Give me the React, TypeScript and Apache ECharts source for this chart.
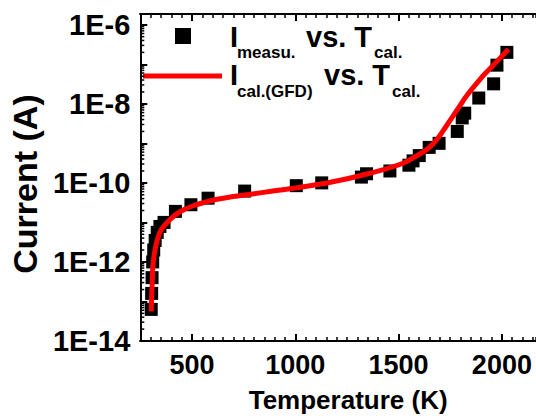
import React, { useEffect, useRef } from "react";
import * as echarts from "echarts";

// Measured current vs calibrated temperature (squares)
const T_MEAS = [303, 305, 307, 310, 315, 322, 332, 345, 365, 420, 495, 578, 755, 1005, 1128, 1320, 1345, 1458, 1550, 1570, 1600, 1648, 1696, 1784, 1808, 1820, 1888, 1960, 1976, 2024];
const I_MEAS = [6.3e-14, 1.6e-13, 4.0e-13, 1.0e-12, 2.0e-12, 3.5e-12, 5.6e-12, 7.9e-12, 1.0e-11, 1.9e-11, 2.8e-11, 4.1e-11, 6.2e-11, 8.5e-11, 1.0e-10, 1.4e-10, 1.7e-10, 2.0e-10, 2.8e-10, 3.6e-10, 4.9e-10, 7.9e-10, 1.0e-9, 2.0e-9, 4.4e-9, 5.8e-9, 1.4e-8, 3.2e-8, 9.5e-8, 2.0e-7];

// Calculated (GFD) current vs calibrated temperature (red line)
const T_CAL = [303, 305, 308, 311, 318, 327, 338, 352, 375, 400, 423, 460, 503, 560, 615, 700, 775, 900, 1000, 1176, 1352, 1512, 1576, 1640, 1688, 1736, 1784, 1832, 1896, 1944, 1992, 2032];
const I_CAL = [5.6e-14, 1.26e-13, 3.2e-13, 7.9e-13, 1.6e-12, 2.8e-12, 4.5e-12, 6.6e-12, 9.3e-12, 1.26e-11, 1.6e-11, 2.1e-11, 2.6e-11, 3.2e-11, 3.8e-11, 4.5e-11, 5.1e-11, 6.3e-11, 7.4e-11, 1.05e-10, 1.7e-10, 3.0e-10, 4.5e-10, 7.2e-10, 1.3e-9, 3.0e-9, 7.1e-9, 1.66e-8, 4.3e-8, 7.9e-8, 1.45e-7, 2.4e-7];

const X_MIN = 250;
const X_MAX = 2165;
const X_TICKS = [500, 1000, 1500, 2000];
const Y_MIN = 1e-14;
const Y_MAX = 1.87e-6;
const Y_DECADES = [-14, -13, -12, -11, -10, -9, -8, -7, -6];
const Y_MINOR_MULT = [2, 3, 4, 5, 6, 7, 8, 9];

const FONT = "'Liberation Sans', Arial, Helvetica, sans-serif";

export default function App() {
  const ref = useRef<HTMLDivElement>(null);

  useEffect(() => {
    document.body.style.margin = "0";
    if (!ref.current) return;
    const chart = echarts.init(ref.current, null, { renderer: "svg" });

    const yMinor: number[][] = [];
    Y_DECADES.forEach((d) => {
      Y_MINOR_MULT.forEach((m) => {
        const v = m * Math.pow(10, d);
        if (v > Y_MIN && v < Y_MAX) yMinor.push([X_MIN, v]);
      });
    });

    const lineStyle = { color: "#000", width: 2 };
    const majorTick = { show: true, inside: true, length: 7, lineStyle: { color: "#000", width: 2 } };
    const minorTick = { show: true, inside: true, length: 4, lineStyle: { color: "#000", width: 1.5 } };

    const xBase = {
      type: "value" as const,
      min: X_MIN,
      max: X_MAX,
      gridIndex: 0,
      splitLine: { show: false },
    };

    const option: any = {
      animation: false,
      grid: { left: 137, top: 14, right: 0, height: 333, containLabel: false },
      xAxis: [
        {
          ...xBase,
          position: "bottom",
          axisLine: { show: true, lineStyle },
          axisTick: { ...majorTick, customValues: X_TICKS },
          axisLabel: {
            customValues: X_TICKS,
            fontSize: 27,
            fontWeight: "bold",
            color: "#000",
            fontFamily: FONT,
            margin: 10,
            formatter: (v: number) => String(v),
          },
          name: "Temperature (K)",
          nameLocation: "middle",
          nameGap: 46,
          nameTextStyle: { fontSize: 26, fontWeight: "bold", color: "#000", fontFamily: FONT, padding: [0, 0, 0, 20] },
        },
        {
          ...xBase,
          position: "bottom",
          interval: 50,
          axisLine: { show: true, lineStyle },
          axisTick: minorTick,
          axisLabel: { show: false },
        },
        {
          ...xBase,
          position: "top",
          axisLine: { show: true, lineStyle },
          axisTick: { ...majorTick, customValues: X_TICKS },
          axisLabel: { show: false },
        },
        {
          ...xBase,
          position: "top",
          interval: 50,
          axisLine: { show: true, lineStyle },
          axisTick: minorTick,
          axisLabel: { show: false },
        },
      ],
      yAxis: [
        {
          type: "log",
          logBase: 10,
          min: Y_MIN,
          max: Y_MAX,
          splitNumber: 10,
          position: "left",
          axisLine: { show: true, lineStyle },
          axisTick: majorTick,
          splitLine: { show: false },
          minorTick: { show: false },
          axisLabel: {
            fontSize: 29,
            fontWeight: "bold",
            color: "#000",
            fontFamily: FONT,
            margin: 10,
            formatter: (v: number) => {
              const e = Math.log10(v);
              const r = Math.round(e);
              if (Math.abs(e - r) > 1e-6 || r % 2 !== 0) return "";
              return "1E" + r;
            },
          },
          name: "Current (A)",
          nameLocation: "middle",
          nameGap: 95,
          nameTextStyle: { fontSize: 34, fontWeight: "bold", color: "#000", fontFamily: FONT, padding: [0, 13, 0, 0] },
        },
      ],
      series: [
        {
          type: "custom",
          xAxisIndex: 0,
          yAxisIndex: 0,
          silent: true,
          clip: false,
          data: yMinor,
          encode: { x: 0, y: 1 },
          renderItem: (params: any, api: any) => {
            const p = api.coord([api.value(0), api.value(1)]);
            const x0 = params.coordSys.x;
            return {
              type: "line",
              shape: { x1: x0, y1: p[1], x2: x0 + 4, y2: p[1] },
              style: { stroke: "#000", lineWidth: 1.5 },
            };
          },
          z: 5,
        },
        {
          type: "scatter",
          xAxisIndex: 0,
          yAxisIndex: 0,
          symbol: "rect",
          symbolSize: 13,
          itemStyle: { color: "#000", opacity: 1 },
          data: T_MEAS.map((t, i) => [t, I_MEAS[i]]),
          z: 2,
        },
        {
          type: "line",
          xAxisIndex: 0,
          yAxisIndex: 0,
          smooth: 0.4,
          showSymbol: false,
          symbol: "none",
          lineStyle: { color: "#ff0000", width: 5 },
          data: T_CAL.map((t, i) => [t, I_CAL[i]]),
          z: 3,
        },
      ],
      graphic: [
        { type: "rect", shape: { x: 175, y: 28, width: 16, height: 16 }, style: { fill: "#000" } },
        { type: "line", shape: { x1: 143, y1: 76, x2: 222, y2: 76 }, style: { stroke: "#ff0000", lineWidth: 5 } },
        { type: "text", x: 230, y: 37, style: { text: "I", fontSize: 29, fontWeight: "bold", fontFamily: FONT, fill: "#000", verticalAlign: "middle" } },
        { type: "text", x: 237, y: 52, style: { text: "measu.", fontSize: 17, fontWeight: "bold", fontFamily: FONT, fill: "#000", verticalAlign: "middle" } },
        { type: "text", x: 306, y: 37, style: { text: "vs. T", fontSize: 29, fontWeight: "bold", fontFamily: FONT, fill: "#000", verticalAlign: "middle" } },
        { type: "text", x: 374, y: 52, style: { text: "cal.", fontSize: 17, fontWeight: "bold", fontFamily: FONT, fill: "#000", verticalAlign: "middle" } },
        { type: "text", x: 230, y: 75, style: { text: "I", fontSize: 29, fontWeight: "bold", fontFamily: FONT, fill: "#000", verticalAlign: "middle" } },
        { type: "text", x: 237, y: 91, style: { text: "cal.(GFD)", fontSize: 17, fontWeight: "bold", fontFamily: FONT, fill: "#000", verticalAlign: "middle" } },
        { type: "text", x: 324, y: 75, style: { text: "vs. T", fontSize: 29, fontWeight: "bold", fontFamily: FONT, fill: "#000", verticalAlign: "middle" } },
        { type: "text", x: 392, y: 91, style: { text: "cal.", fontSize: 17, fontWeight: "bold", fontFamily: FONT, fill: "#000", verticalAlign: "middle" } },
      ],
    };

    chart.setOption(option);
    return () => chart.dispose();
  }, []);

  return <div ref={ref} style={{ width: 536, height: 418 }} />;
}
